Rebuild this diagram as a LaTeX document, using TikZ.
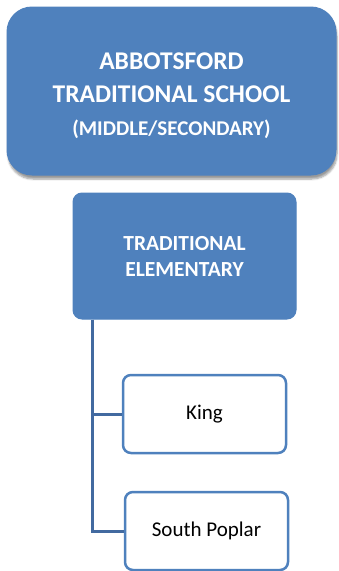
\documentclass[tikz,border=0pt]{standalone}
\usepackage{fontspec}
\setmainfont{Carlito}
\usetikzlibrary{shadows.blur}
\definecolor{boxblue}{RGB}{79,129,189}
\definecolor{lineblue}{RGB}{66,106,160}
\tikzset{
  headbox/.style={draw=boxblue, fill=boxblue, text=white,
    align=center, line width=1pt},
  leafbox/.style={draw=boxblue, fill=white, line width=2.5pt, rounded corners=8pt,
    minimum width=163pt, minimum height=78pt, font=\fontsize{21}{25}\selectfont},
  branch/.style={draw=lineblue, line width=3pt}
}
\begin{document}
\begin{tikzpicture}[x=1pt,y=-1pt]
  \useasboundingbox (0,0) rectangle (339,571);
  \node[headbox, rounded corners=25pt, minimum width=329pt, minimum height=168pt,
    font=\bfseries\fontsize{25.5}{33}\selectfont, text height=92pt,
    blur shadow={shadow xshift=1pt, shadow yshift=-4pt, shadow blur steps=6}]
    (school) at (171.5,91) {ABBOTSFORD\\TRADITIONAL SCHOOL\\
    \fontsize{21}{33}\selectfont (MIDDLE/SECONDARY)};
  \node[headbox, rounded corners=9pt, minimum width=223pt, minimum height=126pt,
    font=\bfseries\fontsize{21.5}{26}\selectfont]
    (elem) at (184.5,256) {TRADITIONAL\\ELEMENTARY};
  \node[leafbox] (king) at (204.5,414) {King};
  \node[leafbox] (poplar) at (206.5,531) {South Poplar};
  % tree lines
  \coordinate (trunk) at ([xshift=20pt]elem.south west);
  \draw[branch] (trunk) |- (king.west);
  \draw[branch] (trunk) |- (poplar.west);
\end{tikzpicture}
\end{document}
